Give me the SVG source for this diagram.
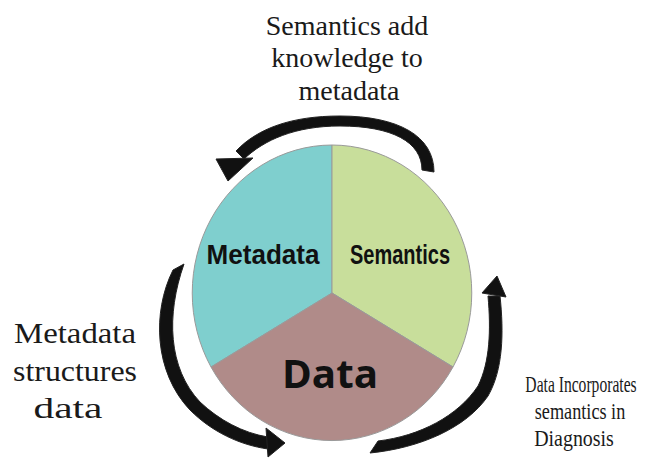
<svg xmlns="http://www.w3.org/2000/svg" width="648" height="458" viewBox="0 0 648 458">
<style>
.sector{stroke:#9a9a9a;stroke-width:1}
.lbl{font-family:"Liberation Sans Narrow","Liberation Sans",Arial,sans-serif;font-weight:bold;fill:#111;text-anchor:middle}
.big{font-family:"Open Sans","Liberation Sans",sans-serif;font-weight:bold;fill:#111;text-anchor:middle}
.serif{font-family:"Liberation Serif","Times New Roman",serif;fill:#1a1a1a;text-anchor:middle}
.arrow{fill:#111;stroke:#222;stroke-width:1;stroke-linejoin:round}
</style>
<rect width="648" height="458" fill="#ffffff"/>
<g id="node-metadata">
<path class="sector" d="M332 293 L332 145 A140 148 0 0 0 211 367 Z" fill="#7fcfce"/>
<text class="lbl" x="263" y="264" font-size="28" textLength="113" lengthAdjust="spacingAndGlyphs">Metadata</text>
</g>
<g id="node-semantics">
<path class="sector" d="M332 293 L332 145 A140 148 0 0 1 453 367 Z" fill="#c8de9b"/>
<text class="lbl" x="400" y="264" font-size="28" textLength="100" lengthAdjust="spacingAndGlyphs">Semantics</text>
</g>
<g id="node-data">
<path class="sector" d="M332 293 L211 367 A140 148 0 0 0 453 367 Z" fill="#b08b89"/>
<text class="big" x="330" y="388" font-size="39" textLength="96" lengthAdjust="spacingAndGlyphs">Data</text>
</g>
<g id="connectors">
<g id="arrow-semantics-metadata">
<path class="arrow" d="M434 172 C434 136 398 116 340 116 C292 116 258 128 236 151 L244 159 C264 140 295 126 340 126 C392 126 422 142 422 170 Z"/>
<polygon class="arrow" points="216,159 253,158 228,181"/>
</g>
<g id="arrow-metadata-data">
<path class="arrow" d="M173 270 C152 312 154 372 190 410 C212 432 240 445 268 449 L268 437 C243 433 219 420 200 402 C168 368 166 315 184 264 Z"/>
<polygon class="arrow" points="266,428 285,443 268,457"/>
</g>
<g id="arrow-data-semantics">
<path class="arrow" d="M370 453 C420 448 466 428 488 396 C503 370 504 333 500 296 L488 296 C491 330 490 362 478 386 C458 416 420 436 378 441 Z"/>
<polygon class="arrow" points="482,293 497,276 506,297"/>
</g>
</g>
<g id="edge-labels">
<text class="serif" font-size="28"><tspan x="347" y="35">Semantics add</tspan><tspan x="347" y="67">knowledge to</tspan><tspan x="349" y="100">metadata</tspan></text>
<text class="serif" font-size="30"><tspan x="75" y="343" textLength="122" lengthAdjust="spacingAndGlyphs">Metadata</tspan><tspan x="75" y="381" textLength="124" lengthAdjust="spacingAndGlyphs">structures</tspan><tspan x="68" y="418" textLength="69" lengthAdjust="spacingAndGlyphs">data</tspan></text>
<text class="serif" font-size="24" transform="translate(581 392) scale(0.65 1)" x="0" y="0">Data Incorporates</text>
<text class="serif" font-size="24" transform="translate(580 419) scale(0.76 1)" x="0" y="0">semantics in</text>
<text class="serif" font-size="24" transform="translate(574 446) scale(0.83 1)" x="0" y="0">Diagnosis</text>
</g>
</svg>
